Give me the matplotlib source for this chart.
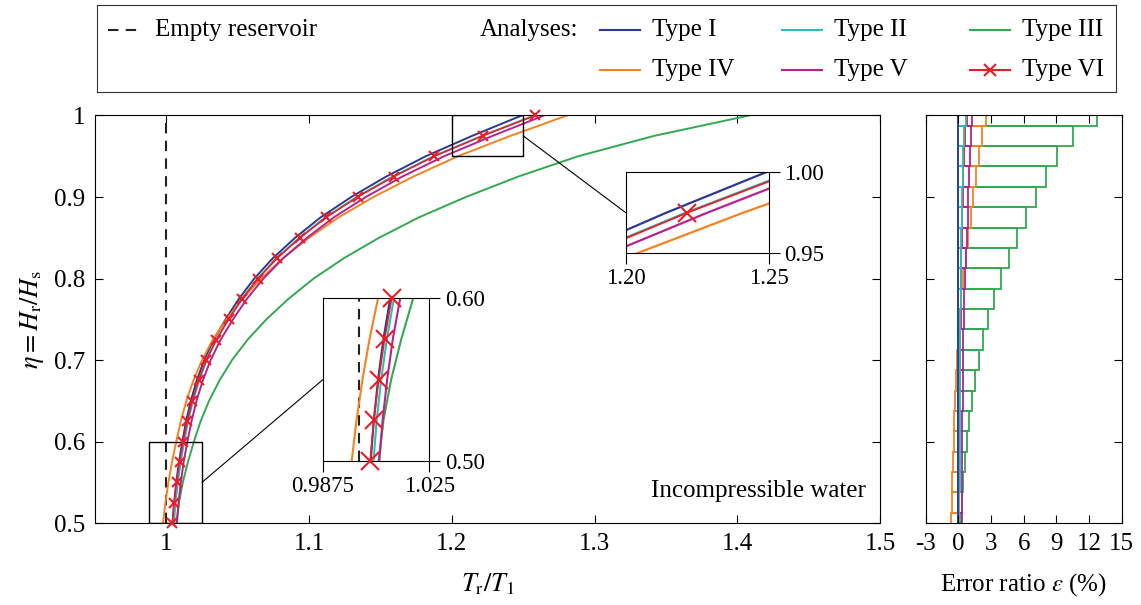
import matplotlib.pyplot as plt
from matplotlib.patches import Rectangle, ConnectionPatch

plt.rcParams["font.family"] = ["Liberation Serif", "DejaVu Serif"]
plt.rcParams["mathtext.fontset"] = "stix"
plt.rcParams["axes.unicode_minus"] = False

# water depth ratio (shared y axis)
eta = [0.5, 0.525, 0.55, 0.575, 0.6, 0.625, 0.65, 0.675, 0.7, 0.725, 0.75,
       0.775, 0.8, 0.825, 0.85, 0.875, 0.9, 0.925, 0.95, 0.975, 1.0]

# period ratio T_r / T_1 for each analysis type
t_type1 = [1.0043, 1.0054, 1.0069, 1.0088, 1.0112, 1.0138, 1.0171, 1.0213, 1.0265, 1.0331, 1.0415,
           1.0507, 1.0616, 1.0746, 1.0902, 1.1080, 1.1295, 1.1539, 1.1817, 1.2142, 1.2489]
t_type2 = [1.0053, 1.0064, 1.0080, 1.0100, 1.0125, 1.0152, 1.0186, 1.0229, 1.0282, 1.0350, 1.0435,
           1.0528, 1.0639, 1.0772, 1.0931, 1.1113, 1.1333, 1.1584, 1.1871, 1.2210, 1.2576]
t_type3 = [1.0071, 1.0088, 1.0115, 1.0151, 1.0193, 1.0240, 1.0299, 1.0372, 1.0460, 1.0569, 1.0701,
           1.0855, 1.1032, 1.1244, 1.1490, 1.1769, 1.2098, 1.2464, 1.2885, 1.3417, 1.4083]
t_type4 = [0.9976, 0.9993, 1.0014, 1.0039, 1.0069, 1.0101, 1.0140, 1.0189, 1.0250, 1.0325, 1.0422,
           1.0533, 1.0664, 1.0817, 1.0999, 1.1206, 1.1451, 1.1729, 1.2042, 1.2410, 1.2806]
t_type5 = [1.0073, 1.0085, 1.0101, 1.0121, 1.0147, 1.0176, 1.0211, 1.0255, 1.0310, 1.0380, 1.0467,
           1.0564, 1.0680, 1.0819, 1.0985, 1.1173, 1.1397, 1.1652, 1.1945, 1.2285, 1.2645]
t_type6 = [1.0041, 1.0054, 1.0071, 1.0092, 1.0117, 1.0146, 1.0181, 1.0225, 1.0280, 1.0350, 1.0436,
           1.0530, 1.0643, 1.0776, 1.0937, 1.1120, 1.1340, 1.1592, 1.1878, 1.2215, 1.2583]

# error ratio (%) relative to Type I
err_type1 = [0.0] * 21
err_type2 = [0.10, 0.10, 0.11, 0.12, 0.13, 0.14, 0.15, 0.16, 0.17, 0.18, 0.19,
             0.20, 0.22, 0.24, 0.27, 0.30, 0.34, 0.39, 0.46, 0.56, 0.70]
err_type3 = [0.28, 0.34, 0.46, 0.62, 0.80, 1.01, 1.26, 1.56, 1.90, 2.30, 2.75,
             3.31, 3.92, 4.63, 5.39, 6.22, 7.11, 8.02, 9.04, 10.5, 12.76]
err_type4 = [-0.67, -0.61, -0.55, -0.49, -0.43, -0.37, -0.31, -0.24, -0.15, -0.06, 0.07,
             0.25, 0.45, 0.66, 0.89, 1.14, 1.38, 1.65, 1.90, 2.21, 2.54]
err_type5 = [0.30, 0.31, 0.32, 0.33, 0.35, 0.37, 0.39, 0.41, 0.44, 0.47, 0.50,
             0.54, 0.60, 0.68, 0.76, 0.84, 0.90, 0.98, 1.08, 1.18, 1.25]
err_type6 = [0.0, 0.0, 0.02, 0.04, 0.05, 0.08, 0.10, 0.12, 0.15, 0.18, 0.20,
             0.22, 0.25, 0.28, 0.32, 0.36, 0.40, 0.46, 0.52, 0.60, 0.75]

empty_t = [1.0, 1.0]
empty_eta = [0.5, 1.0]

type_names = ["Type I", "Type II", "Type III", "Type IV", "Type V", "Type VI"]
type_colors = ["#2b3990", "#2cbcbc", "#33a852", "#f5821f", "#b5228f", "#ed1c24"]
t_values = [t_type1, t_type2, t_type3, t_type4, t_type5, t_type6]
err_values = [err_type1, err_type2, err_type3, err_type4, err_type5, err_type6]
# drawing order in the error panel: red at the back, Type I on top
err_order = [5, 2, 3, 4, 1, 0]

main_xticks = [1.0, 1.1, 1.2, 1.3, 1.4, 1.5]
main_xlabels = ["1", "1.1", "1.2", "1.3", "1.4", "1.5"]
main_yticks = [0.5, 0.6, 0.7, 0.8, 0.9, 1.0]
main_ylabels = ["0.5", "0.6", "0.7", "0.8", "0.9", "1"]
err_xticks = [-3, 0, 3, 6, 9, 12, 15]
err_xlabels = ["-3", "0", "3", "6", "9", "12", "15"]


def draw_curves(axis, lw=1.4, ms=7, xlim=None, ylim=None):
    axis.plot(empty_t, empty_eta, color="#222222", lw=1.5, dashes=(5, 3.5))
    for t, c in zip(t_values[:5], type_colors[:5]):
        axis.plot(t, eta, color=c, lw=lw)
    axis.plot(t_type6, eta, color=type_colors[5], lw=lw * 0.8)
    # markers may hang over the frame, like in the original
    pts = [(t, e) for t, e in zip(t_type6, eta)
           if xlim is None or (xlim[0] <= t <= xlim[1] and ylim[0] <= e <= ylim[1])]
    axis.plot([p[0] for p in pts], [p[1] for p in pts], ls="none", marker="x",
              color=type_colors[5], ms=ms, mew=1.5, clip_on=False, zorder=5)


fig = plt.figure(figsize=(11.41, 6.05), dpi=100)

# ---- main panel
ax = fig.add_axes([0.0833, 0.1355, 0.688, 0.6736])
draw_curves(ax, xlim=(0.95, 1.5), ylim=(0.5, 1.0))
ax.set_xlim(0.95, 1.5)
ax.set_ylim(0.5, 1.0)
ax.set_xticks(main_xticks)
ax.set_xticklabels(main_xlabels)
ax.set_yticks(main_yticks)
ax.set_yticklabels(main_ylabels)
ax.tick_params(direction="in", top=True, right=True, length=6, labelsize=18, pad=7)
ax.set_xlabel(r"$T_\mathrm{r}/T_1$", fontsize=19, labelpad=12)
ax.set_ylabel(r"$\eta = H_\mathrm{r}/H_\mathrm{s}$", fontsize=19, labelpad=6)
ax.text(0.982, 0.078, "Incompressible water", transform=ax.transAxes,
        ha="right", va="center", fontsize=18)
ax.add_patch(Rectangle((0.9875, 0.5), 0.0375, 0.1, fill=False, ec="k", lw=1, zorder=4))
ax.add_patch(Rectangle((1.2, 0.95), 0.05, 0.05, fill=False, ec="k", lw=1, zorder=4))

# ---- zoom near eta = 0.5
ins1 = fig.add_axes([0.2831, 0.238, 0.0933, 0.2694])
draw_curves(ins1, lw=1.5, ms=13, xlim=(0.9875, 1.025), ylim=(0.5, 0.6))
ins1.set_xlim(0.9875, 1.025)
ins1.set_ylim(0.5, 0.6)
ins1.set_xticks([0.9875, 1.025])
ins1.set_xticklabels(["0.9875", "1.025"])
ins1.set_yticks([0.5, 0.6])
ins1.set_yticklabels(["0.50", "0.60"])
ins1.yaxis.tick_right()
ins1.tick_params(direction="out", length=8, labelsize=16.5, pad=3)

# ---- zoom near eta = 1
ins2 = fig.add_axes([0.5484, 0.5818, 0.1256, 0.1334])
draw_curves(ins2, lw=1.6, ms=13, xlim=(1.2, 1.25), ylim=(0.95, 1.0))
ins2.set_xlim(1.2, 1.25)
ins2.set_ylim(0.95, 1.0)
ins2.set_xticks([1.2, 1.25])
ins2.set_xticklabels(["1.20", "1.25"])
ins2.set_yticks([0.95, 1.0])
ins2.set_yticklabels(["0.95", "1.00"])
ins2.yaxis.tick_right()
ins2.tick_params(direction="out", length=8, labelsize=16.5, pad=3)

for a, xy in [(ins1, (1.025, 0.55)), (ins2, (1.25, 0.975))]:
    con = ConnectionPatch(xyA=xy, coordsA=ax.transData, xyB=(0, 0.5),
                          coordsB=a.transAxes, color="k", lw=0.8)
    fig.add_artist(con)

# ---- error ratio panel
axe = fig.add_axes([0.8113, 0.1355, 0.1718, 0.6736])
for k in err_order:
    axe.barh(eta, err_values[k], height=0.025, color="none",
             edgecolor=type_colors[k], lw=1.3)
axe.set_xlim(-3, 15)
axe.set_ylim(0.5, 1.0)
axe.set_xticks(err_xticks)
axe.set_xticklabels(err_xlabels)
axe.set_yticks(main_yticks)
axe.set_yticklabels([])
axe.tick_params(direction="in", top=True, right=True, length=6, labelsize=18, pad=7)
axe.set_xlabel(r"Error ratio $\varepsilon$ (%)", fontsize=18, labelpad=12)

# ---- legend box
lax = fig.add_axes([97 / 1141, 1 - 92 / 605, 1019 / 1141, 87 / 605])
lax.set_xlim(0, 1)
lax.set_ylim(0, 1)
lax.set_xticks([])
lax.set_yticks([])
for s in lax.spines.values():
    s.set_color("#333333")
row_y = [0.71, 0.25]
col_x = [0.4936, 0.672, 0.8567]
lax.plot([0.0108, 0.044], [row_y[0], row_y[0]], color="#222222", lw=1.5, dashes=(5, 3.5))
lax.text(0.057, row_y[0], "Empty reservoir", va="center", fontsize=18)
lax.text(0.472, row_y[0], "Analyses:", va="center", ha="right", fontsize=18)
for i, (name, c) in enumerate(zip(type_names, type_colors)):
    x0 = col_x[i % 3]
    y0 = row_y[i // 3]
    lax.plot([x0, x0 + 0.0393], [y0, y0], color=c, lw=1.5)
    if name == "Type VI":
        lax.plot([x0 + 0.0196], [y0], marker="x", color=c, ms=9, mew=1.5)
    lax.text(x0 + 0.051, y0, name, va="center", fontsize=18)

fig.savefig("out.png", dpi=100)
